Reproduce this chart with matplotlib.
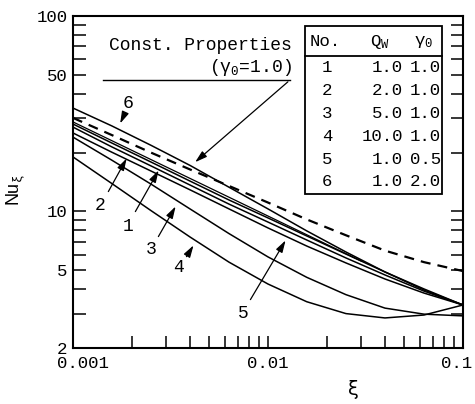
import numpy as np
import matplotlib
matplotlib.use("Agg")
import matplotlib.pyplot as plt
from matplotlib.patches import FancyArrowPatch
from matplotlib.transforms import ScaledTranslation
from matplotlib.ticker import FixedLocator, LogLocator, NullFormatter, FixedFormatter

plt.rcParams['font.family'] = ['Liberation Mono', 'DejaVu Sans Mono']
plt.rcParams['mathtext.fontset'] = 'custom'
plt.rcParams['mathtext.rm'] = 'Liberation Mono'
plt.rcParams['mathtext.it'] = 'Liberation Mono'
plt.rcParams['mathtext.sf'] = 'Liberation Sans'

# values
xi = [0.001, 0.00158, 0.00251, 0.00398, 0.00631, 0.01, 0.0158, 0.0251, 0.0398, 0.0631, 0.1]
nu_const = [30.1, 24.6, 20.0, 16.4, 13.5, 11.1, 9.1, 7.55, 6.3, 5.5, 4.95]   # dashed
nu_1 = [28.0, 22.4, 17.9, 14.3, 11.44, 9.26, 7.49, 6.05, 4.90, 4.01, 3.32]
nu_2 = [27.0, 21.4, 17.1, 13.65, 10.9, 8.82, 7.14, 5.78, 4.73, 3.91, 3.32]
nu_3 = [24.0, 18.3, 13.8, 10.3, 7.7, 5.85, 4.6, 3.75, 3.2, 2.98, 2.92]
nu_4 = [19.0, 13.9, 10.1, 7.4, 5.5, 4.25, 3.45, 3.0, 2.85, 2.95, 3.32]
nu_5 = [25.2, 20.1, 16.1, 12.9, 10.3, 8.23, 6.65, 5.45, 4.51, 3.82, 3.32]
nu_6 = [33.8, 27.4, 21.8, 17.2, 13.3, 10.3, 7.95, 6.2, 4.9, 3.96, 3.32]
xi_lev = [0.001, 0.0301]
nu_lev = [28.7, 5.57]

table_no = ['1', '2', '3', '4', '5', '6']
table_qw = ['1.0', '2.0', '5.0', '10.0', '1.0', '1.0']
table_g0 = ['1.0', '1.0', '1.0', '1.0', '0.5', '2.0']

W, H = 475, 404
fig = plt.figure(figsize=(W / 100, H / 100), dpi=100)
ax = fig.add_axes([73 / W, 1 - 348 / H, (463 - 73) / W, (348 - 16) / H])
ax.set_xscale('log')
ax.set_yscale('log')
ax.set_xlim(0.001, 0.1)
ax.set_ylim(2, 100)

lw = 1.1
for y in (nu_1, nu_2, nu_3, nu_4, nu_5, nu_6):
    ax.plot(xi, y, color='black', lw=lw)
ax.plot(xi_lev, nu_lev, color='black', lw=0.9)
ax.plot(xi, nu_const, color='black', lw=1.6, ls=(0, (4.5, 3.2)))

for s in ax.spines.values():
    s.set_linewidth(1.5)

ax.xaxis.set_major_locator(FixedLocator([0.001, 0.01, 0.1]))
ax.xaxis.set_major_formatter(FixedFormatter(['0.001', '0.01', '0.1']))
ax.xaxis.set_minor_locator(LogLocator(base=10, subs=np.arange(2, 10)))
ax.xaxis.set_minor_formatter(NullFormatter())
ax.yaxis.set_major_locator(FixedLocator([2, 5, 10, 50, 100]))
ax.yaxis.set_major_formatter(FixedFormatter(['2', '5', '10', '50', '100']))
ax.yaxis.set_minor_locator(LogLocator(base=10, subs=np.arange(2, 10)))
ax.yaxis.set_minor_formatter(NullFormatter())
ax.tick_params(which='both', direction='in', length=9, width=1.1,
               top=False, right=True, labelsize=12.5, pad=4)
ax.tick_params(axis='x', pad=6)

# shift the end labels the way the original has them
xl = ax.get_xticklabels()
xl[0].set_transform(xl[0].get_transform() + ScaledTranslation(10 / 100, 0, fig.dpi_scale_trans))
xl[-1].set_transform(xl[-1].get_transform() + ScaledTranslation(-6 / 100, 0, fig.dpi_scale_trans))

ax.set_xlabel('ξ', fontsize=14, family=['DejaVu Sans'])
ax.xaxis.set_label_coords((353 - 73) / 390, -(380 - 348) / 332)
ax.set_ylabel(r'$\mathsf{Nu}_{\xi}$', fontsize=13)
ax.yaxis.set_label_coords(-(73 - 27) / 390, (348 - 190) / 332)

def fx(px):
    return px / W

def fy(py):
    return 1 - py / H

# table
tb = plt.Rectangle((fx(305), fy(194)), fx(442) - fx(305), fy(26) - fy(194),
                   transform=fig.transFigure, fill=False, lw=1.3, color='black')
fig.add_artist(tb)
fig.add_artist(plt.Line2D([fx(305), fx(442)], [fy(56), fy(56)],
                          transform=fig.transFigure, lw=1.3, color='black'))
fs = 12.5
fig.text(fx(310), fy(42), 'No.', fontsize=fs, va='center', ha='left')
fig.text(fx(380), fy(42), r'Q$_\mathrm{W}$', fontsize=fs, va='center', ha='center')
fig.text(fx(424), fy(42), r'γ$_0$', fontsize=fs, va='center', ha='center')
for i in range(6):
    yy = fy(68 + i * 22.8)
    fig.text(fx(327), yy, table_no[i], fontsize=fs, va='center', ha='center')
    fig.text(fx(403), yy, table_qw[i], fontsize=fs, va='center', ha='right')
    fig.text(fx(441), yy, table_g0[i], fontsize=fs, va='center', ha='right')

# const properties label
fig.text(fx(292), fy(45), 'Const. Properties', fontsize=13, va='center', ha='right')
fig.text(fx(292), fy(67), r'(γ$_0$=1.0)', fontsize=13, va='center', ha='right')
fig.add_artist(plt.Line2D([fx(103), fx(290)], [fy(80), fy(80)],
                          transform=fig.transFigure, lw=1.0, color='black'))

astyle = '-|>,head_length=0.6,head_width=0.18'
fig.add_artist(FancyArrowPatch((fx(290), fy(80)), (fx(193), fy(164)),
                               transform=fig.transFigure, arrowstyle=astyle,
                               color='black', lw=0.9, mutation_scale=12))

labels = [('6', (128, 103), (125, 113), (119, 126)),
          ('2', (100, 205), (107, 194), (128, 156)),
          ('1', (128, 226), (134, 214), (160, 168)),
          ('3', (151, 250), (157, 239), (177, 204)),
          ('4', (179, 268), (185, 259), (195, 243)),
          ('5', (243, 313), (249, 302), (287, 238))]
for t, (lx, ly), (ax0, ay0), (ax1, ay1) in labels:
    fig.text(fx(lx), fy(ly), t, fontsize=13, va='center', ha='center')
    fig.add_artist(FancyArrowPatch((fx(ax0), fy(ay0)), (fx(ax1), fy(ay1)),
                                   transform=fig.transFigure, arrowstyle=astyle,
                                   color='black', lw=0.9, mutation_scale=12))

fig.savefig('out.png', dpi=100)
